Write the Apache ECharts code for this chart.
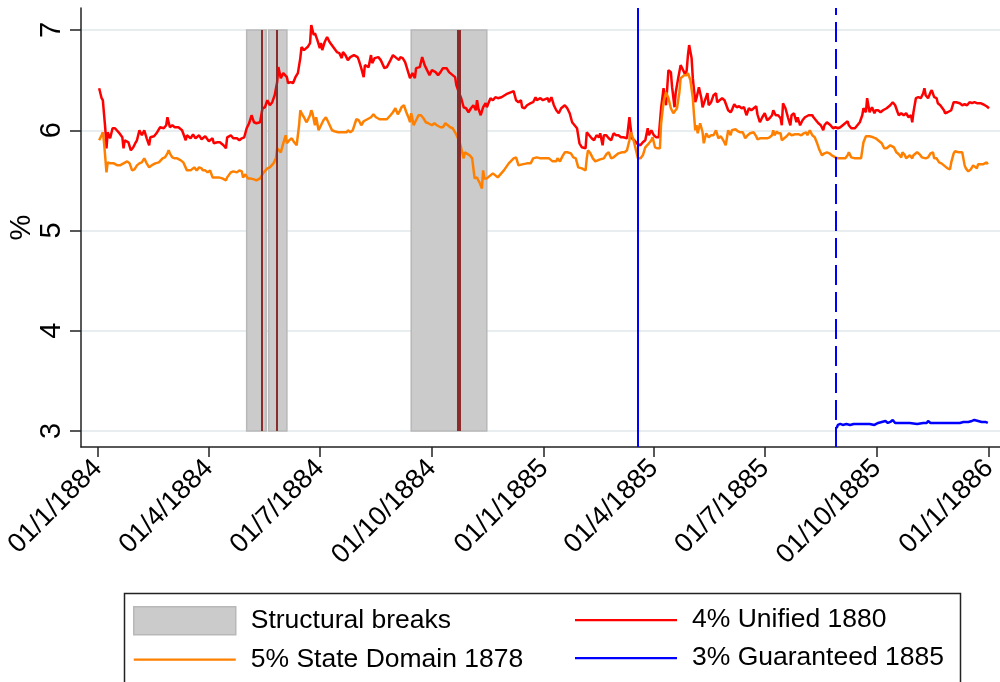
<!DOCTYPE html>
<html>
<head>
<meta charset="utf-8">
<script src="https://cdn.jsdelivr.net/npm/echarts@6/dist/echarts.min.js"></script>
<style>
html,body{margin:0;padding:0;background:#fff;}
#chart{width:1000px;height:682px;}
</style>
</head>
<body>
<div id="chart"></div>
<script>
// x values are days since 01/1/1884
const tickDays = [0, 91, 182, 274, 366, 456, 547, 639, 731];
const tickLabels = ['01/1/1884','01/4/1884','01/7/1884','01/10/1884','01/1/1885','01/4/1885','01/7/1885','01/10/1885','01/1/1886'];
const yTicks = [3, 4, 5, 6, 7];

// structural break bands [startDay, endDay] and break dates [day, lineWidth]
const breakBands = [[122, 138], [140, 155], [257, 319]];
const breakDates = [[134.5, 2], [147, 2], [296, 4]];
// issue of the 3% Guaranteed 1885 (solid) and first quotation (dashed)
const guaranteedIssue = 443;
const guaranteedStart = 605;

// 4% Unified 1880 [day, yield %]
const unified1880 = [[1,6.42],[3,6.32],[4,6.30],[6,6.02],[7,5.82],[8,5.98],[10,5.92],[12,6.02],[14,6.02],[17,5.98],[20,5.93],[21,5.82],[22,5.90],[25,5.88],[27,5.80],[29,5.83],[31,5.88],[32,5.90],[34,6.00],[36,5.95],[38,6.00],[40,5.92],[42,5.85],[43,5.93],[46,5.94],[48,5.97],[51,6.03],[54,6.02],[56,6.05],[57,6.13],[59,6.03],[61,6.05],[63,6.03],[66,6.03],[69,6.00],[72,5.90],[73,5.95],[76,5.92],[78,5.96],[80,5.92],[83,5.95],[85,5.91],[88,5.94],[91,5.89],[94,5.92],[95,5.87],[98,5.88],[100,5.88],[103,5.85],[105,5.82],[106,5.93],[109,5.95],[111,5.92],[114,5.92],[116,5.90],[118,5.92],[120,5.93],[122,6.02],[124,6.07],[126,6.15],[128,6.08],[130,6.07],[133,6.08],[135,6.22],[137,6.23],[139,6.30],[141,6.25],[143,6.28],[145,6.35],[147,6.48],[148,6.63],[150,6.52],[152,6.57],[155,6.53],[156,6.47],[158,6.48],[160,6.47],[162,6.53],[164,6.57],[166,6.72],[167,6.83],[169,6.80],[172,6.83],[174,6.87],[175,7.05],[177,6.95],[178,6.97],[180,6.90],[182,6.82],[183,6.87],[184,6.80],[186,6.88],[188,6.93],[190,6.88],[193,6.83],[196,6.78],[198,6.77],[200,6.72],[201,6.78],[203,6.75],[205,6.70],[207,6.73],[210,6.75],[213,6.73],[214,6.70],[216,6.62],[218,6.53],[219,6.65],[222,6.63],[224,6.75],[225,6.67],[227,6.72],[230,6.73],[232,6.70],[235,6.62],[237,6.63],[240,6.70],[242,6.75],[244,6.73],[247,6.70],[248,6.73],[250,6.72],[252,6.68],[254,6.60],[256,6.52],[258,6.57],[260,6.52],[261,6.62],[264,6.63],[266,6.73],[268,6.65],[270,6.60],[272,6.55],[274,6.60],[277,6.58],[279,6.55],[281,6.58],[283,6.62],[286,6.62],[288,6.58],[291,6.55],[293,6.53],[294,6.45],[296,6.38],[298,6.32],[300,6.23],[302,6.22],[304,6.18],[306,6.22],[308,6.25],[310,6.20],[311,6.30],[312,6.22],[314,6.15],[316,6.23],[318,6.27],[319,6.23],[322,6.32],[324,6.30],[326,6.33],[328,6.32],[331,6.33],[335,6.36],[341,6.39],[343,6.30],[345,6.28],[347,6.30],[348,6.23],[350,6.22],[352,6.25],[355,6.27],[357,6.28],[359,6.33],[360,6.30],[363,6.32],[365,6.30],[367,6.31],[369,6.32],[370,6.28],[372,6.33],[374,6.25],[376,6.20],[378,6.17],[380,6.22],[383,6.25],[385,6.22],[387,6.17],[389,6.08],[391,6.05],[393,6.02],[395,5.87],[397,5.83],[400,5.82],[401,5.98],[403,5.95],[405,5.92],[407,5.90],[409,5.95],[411,5.93],[412,5.97],[414,5.85],[415,5.95],[417,5.95],[419,5.92],[421,5.90],[423,5.97],[425,5.95],[427,5.95],[429,5.93],[431,5.93],[434,5.92],[436,6.13],[438,5.92],[440,5.90],[442,5.87],[445,5.85],[447,5.88],[449,5.90],[451,6.02],[452,5.95],[454,6.00],[456,5.95],[458,5.93],[460,5.93],[462,6.22],[464,6.42],[466,6.25],[468,6.60],[470,6.58],[471,6.43],[473,6.23],[474,6.38],[476,6.52],[478,6.65],[480,6.60],[482,6.55],[483,6.60],[484,6.75],[485,6.85],[487,6.72],[488,6.52],[490,6.28],[491,6.32],[493,6.43],[495,6.32],[496,6.23],[498,6.30],[500,6.37],[501,6.25],[503,6.28],[505,6.35],[507,6.37],[508,6.28],[510,6.30],[512,6.32],[514,6.30],[517,6.20],[519,6.18],[520,6.20],[522,6.26],[524,6.23],[526,6.24],[528,6.22],[530,6.23],[532,6.15],[534,6.22],[536,6.20],[538,6.22],[540,6.24],[541,6.16],[543,6.08],[545,6.13],[547,6.17],[549,6.10],[551,6.12],[553,6.15],[554,6.20],[556,6.15],[558,6.15],[560,6.12],[561,6.05],[562,6.27],[564,6.22],[566,6.13],[568,6.05],[569,6.15],[571,6.17],[573,6.08],[574,6.13],[576,6.05],[578,6.10],[580,6.13],[583,6.15],[586,6.15],[587,6.13],[589,6.10],[591,6.07],[593,6.05],[595,6.00],[596,6.05],[598,6.08],[601,6.05],[603,6.02],[605,6.03],[607,6.02],[609,6.03],[611,6.05],[613,6.07],[615,6.09],[616,6.05],[618,6.02],[621,6.02],[623,6.05],[625,6.08],[627,6.15],[628,6.22],[630,6.18],[631,6.32],[633,6.18],[635,6.23],[637,6.17],[638,6.20],[640,6.20],[642,6.18],[644,6.20],[647,6.22],[648,6.23],[650,6.25],[652,6.28],[654,6.25],[656,6.18],[657,6.15],[659,6.17],[661,6.15],[663,6.17],[665,6.13],[667,6.15],[668,6.08],[669,6.18],[671,6.32],[673,6.33],[675,6.32],[677,6.37],[678,6.42],[679,6.35],[681,6.32],[683,6.38],[684,6.40],[686,6.33],[688,6.32],[689,6.27],[691,6.25],[694,6.20],[695,6.17],[697,6.18],[698,6.17],[700,6.20],[702,6.28],[704,6.28],[707,6.27],[709,6.25],[711,6.26],[713,6.25],[715,6.28],[717,6.27],[719,6.28],[721,6.27],[724,6.27],[726,6.26],[729,6.24],[731,6.22]];

// 5% State Domain 1878 [day, yield %]
const stateDomain1878 = [[1,5.90],[3,5.95],[4,5.98],[5,5.88],[7,5.58],[8,5.68],[10,5.67],[13,5.67],[16,5.65],[18,5.65],[21,5.67],[24,5.69],[26,5.67],[28,5.60],[30,5.61],[32,5.65],[34,5.67],[36,5.68],[38,5.72],[40,5.67],[42,5.63],[44,5.65],[47,5.67],[50,5.68],[53,5.72],[55,5.73],[57,5.77],[58,5.80],[59,5.77],[61,5.73],[63,5.72],[65,5.72],[68,5.70],[70,5.68],[73,5.60],[74,5.60],[76,5.60],[79,5.63],[81,5.60],[83,5.63],[85,5.62],[86,5.60],[88,5.60],[90,5.58],[92,5.60],[94,5.53],[96,5.53],[99,5.53],[102,5.52],[105,5.50],[106,5.53],[109,5.58],[111,5.59],[114,5.58],[116,5.60],[118,5.59],[119,5.53],[121,5.56],[123,5.52],[125,5.52],[128,5.51],[130,5.50],[133,5.52],[136,5.58],[139,5.62],[141,5.63],[144,5.67],[146,5.72],[147,5.82],[150,5.78],[152,5.87],[154,5.95],[155,5.87],[157,5.90],[159,5.92],[161,5.88],[163,5.85],[165,6.05],[166,6.20],[167,6.17],[169,6.13],[171,6.08],[172,6.10],[174,6.15],[175,6.20],[176,6.17],[178,6.05],[179,6.13],[181,6.00],[183,6.05],[185,6.10],[187,6.13],[189,6.08],[192,6.00],[194,5.99],[197,5.98],[201,5.98],[204,5.98],[205,6.00],[207,5.98],[209,6.00],[212,6.11],[214,6.10],[216,6.05],[218,6.09],[221,6.11],[224,6.13],[226,6.16],[228,6.13],[231,6.11],[234,6.11],[237,6.11],[240,6.15],[242,6.18],[244,6.22],[246,6.16],[248,6.20],[249,6.23],[251,6.25],[253,6.18],[255,6.12],[256,6.08],[257,6.17],[259,6.05],[261,6.10],[263,6.15],[265,6.15],[267,6.12],[269,6.08],[271,6.07],[274,6.05],[276,6.07],[278,6.05],[281,6.03],[283,6.03],[285,6.07],[287,6.05],[289,6.03],[291,6.02],[293,5.98],[295,5.93],[297,5.87],[298,5.82],[300,5.72],[301,5.78],[302,5.78],[305,5.75],[307,5.72],[308,5.62],[309,5.52],[311,5.53],[312,5.50],[313,5.48],[315,5.42],[316,5.60],[317,5.52],[319,5.52],[322,5.55],[324,5.57],[328,5.53],[333,5.60],[337,5.67],[341,5.72],[343,5.73],[345,5.65],[348,5.66],[352,5.67],[355,5.67],[357,5.72],[360,5.73],[363,5.72],[367,5.72],[370,5.72],[373,5.69],[376,5.69],[377,5.72],[379,5.69],[381,5.74],[383,5.78],[385,5.78],[388,5.77],[390,5.73],[392,5.72],[394,5.63],[397,5.62],[400,5.60],[401,5.72],[402,5.80],[404,5.77],[406,5.72],[408,5.69],[410,5.70],[412,5.71],[415,5.72],[417,5.76],[419,5.78],[421,5.72],[423,5.73],[425,5.75],[427,5.77],[430,5.78],[432,5.78],[434,5.80],[436,5.90],[437,5.98],[439,5.92],[441,5.82],[443,5.72],[445,5.72],[447,5.75],[449,5.83],[452,5.87],[454,5.90],[455,5.93],[457,5.83],[459,5.82],[461,5.82],[462,6.07],[464,6.28],[466,6.38],[468,6.32],[470,6.22],[472,6.17],[473,6.17],[475,6.22],[477,6.38],[478,6.52],[481,6.55],[483,6.55],[484,6.57],[486,6.50],[488,6.32],[489,6.15],[490,6.00],[491,6.05],[492,5.97],[494,6.07],[496,5.98],[497,5.87],[499,5.97],[501,5.93],[503,5.95],[505,5.95],[507,6.00],[509,5.92],[511,5.94],[513,5.90],[515,5.85],[517,6.00],[519,5.95],[520,6.00],[523,6.01],[525,5.99],[527,5.98],[529,5.98],[531,5.92],[533,5.95],[535,5.97],[538,5.98],[540,5.94],[541,5.91],[543,5.92],[546,5.92],[549,5.92],[551,5.93],[553,5.95],[554,6.00],[555,5.95],[557,5.99],[558,5.97],[560,5.97],[561,5.90],[563,5.92],[565,5.94],[567,5.97],[569,5.95],[572,5.96],[575,5.96],[577,5.95],[579,5.97],[581,5.98],[582,5.95],[584,6.00],[586,5.95],[588,5.93],[590,5.87],[592,5.80],[594,5.75],[596,5.77],[598,5.78],[600,5.77],[602,5.75],[605,5.73],[607,5.72],[610,5.72],[613,5.72],[615,5.75],[616,5.78],[618,5.73],[621,5.72],[624,5.72],[626,5.72],[628,5.88],[630,5.94],[633,5.94],[636,5.93],[638,5.92],[641,5.89],[643,5.87],[645,5.82],[647,5.82],[648,5.83],[650,5.85],[653,5.83],[655,5.78],[657,5.76],[659,5.73],[660,5.78],[662,5.75],[663,5.72],[666,5.75],[668,5.72],[669,5.75],[672,5.78],[674,5.76],[676,5.73],[679,5.72],[681,5.73],[683,5.77],[685,5.78],[686,5.72],[688,5.72],[690,5.68],[692,5.67],[695,5.64],[697,5.62],[699,5.61],[700,5.68],[702,5.77],[703,5.79],[706,5.78],[707,5.78],[709,5.78],[711,5.65],[712,5.62],[714,5.59],[716,5.61],[718,5.65],[719,5.66],[721,5.62],[722,5.66],[724,5.66],[726,5.66],[729,5.68],[730,5.66]];

// 3% Guaranteed 1885 [day, yield %]
const guaranteed1885 = [[606,3.03],[607,3.06],[609,3.07],[611,3.06],[614,3.07],[617,3.06],[620,3.07],[622,3.07],[625,3.07],[629,3.07],[633,3.07],[637,3.06],[640,3.08],[643,3.09],[646,3.10],[648,3.08],[650,3.09],[652,3.11],[654,3.08],[657,3.08],[661,3.08],[666,3.08],[672,3.07],[677,3.08],[680,3.08],[681,3.10],[683,3.08],[687,3.08],[691,3.08],[696,3.08],[702,3.08],[707,3.08],[710,3.09],[714,3.09],[717,3.10],[719,3.11],[722,3.10],[725,3.09],[728,3.09],[730,3.08]];

const FONT = 'Liberation Sans, Arial, Helvetica, sans-serif';
const AXIS_COLOR = '#222';
const BAND_FILL = '#cbcbcb';
const BAND_BORDER = '#b8b8b8';
// legend line icon: a 2px horizontal bar inside a 102x28 box (tiny corner points fix the box)
const LINE_ICON = 'path://M0,0L0.01,0L0.01,0.01Z M0,13L102,13L102,15.2L0,15.2Z M101.99,27.99L102,28L101.99,28Z';

const chart = echarts.init(document.getElementById('chart'), null, {renderer: 'canvas'});

const legendText = {fontSize: 26.5, fontFamily: FONT, color: '#000', padding: [0, 0, 0, 10], lineHeight: 28};

const option = {
  animation: false,
  backgroundColor: '#ffffff',
  grid: {left: 81, right: 0, top: 8, bottom: 235, containLabel: false, outerBoundsMode: 'none'},
  xAxis: {
    type: 'value',
    min: -13.9,
    max: 740,
    axisLine: {show: true, onZero: false, lineStyle: {color: AXIS_COLOR, width: 1.5}},
    axisTick: {show: true, customValues: tickDays, length: 10, lineStyle: {color: AXIS_COLOR, width: 1.5}},
    axisLabel: {
      customValues: tickDays,
      rotate: 45,
      margin: 17,
      fontSize: 27,
      fontFamily: FONT,
      color: '#000',
      hideOverlap: false,
      formatter: function (v) { const i = tickDays.indexOf(v); return i >= 0 ? tickLabels[i] : ''; }
    },
    splitLine: {show: false}
  },
  yAxis: {
    type: 'value',
    min: 2.84,
    max: 7.22,
    name: '%',
    nameLocation: 'middle',
    nameRotate: 90,
    nameGap: 45,
    nameMoveOverlap: false,
    nameTextStyle: {fontSize: 29, fontFamily: FONT, color: '#000'},
    axisLine: {show: true, onZero: false, lineStyle: {color: AXIS_COLOR, width: 1.5}},
    axisTick: {show: true, customValues: yTicks, length: 11, lineStyle: {color: AXIS_COLOR, width: 1.5}},
    axisLabel: {customValues: yTicks, rotate: 90, margin: 15, fontSize: 29, fontFamily: FONT, color: '#000'},
    splitLine: {show: true, lineStyle: {color: '#e8eef0', width: 2}}
  },
  legend: [
    {
      orient: 'vertical', left: 133, top: 606, padding: 0, itemWidth: 102, itemHeight: 28, itemGap: 10,
      selectedMode: false, textStyle: legendText,
      data: [
        {name: 'Structural breaks', icon: 'rect', itemStyle: {color: BAND_FILL, borderColor: BAND_BORDER, borderWidth: 1.5}},
        {name: '5% State Domain 1878', icon: LINE_ICON, itemStyle: {color: '#ff8000', borderWidth: 0}}
      ]
    },
    {
      orient: 'vertical', left: 575, top: 606, padding: 0, itemWidth: 102, itemHeight: 28, itemGap: 10,
      selectedMode: false, textStyle: legendText,
      data: [
        {name: '4% Unified 1880', icon: LINE_ICON, itemStyle: {color: '#ff0000', borderWidth: 0}},
        {name: '3% Guaranteed 1885', icon: LINE_ICON, itemStyle: {color: '#0000ff', borderWidth: 0}}
      ]
    }
  ],
  graphic: [
    {type: 'rect', left: 122, top: 591, shape: {width: 836, height: 100},
     style: {fill: 'none', stroke: '#222', lineWidth: 1.5}, silent: true}
  ],
  series: [
    {
      name: 'Structural breaks', type: 'line', data: [], symbol: 'none',
      itemStyle: {color: BAND_FILL},
      lineStyle: {color: BAND_FILL},
      markArea: {
        silent: true,
        itemStyle: {color: BAND_FILL, borderColor: BAND_BORDER, borderWidth: 1.5},
        data: breakBands.map(b => [{xAxis: b[0], yAxis: 3}, {xAxis: b[1], yAxis: 7}])
      },
      markLine: {
        silent: true, symbol: 'none', label: {show: false},
        data: breakDates.map(b => [
          {coord: [b[0], 3], lineStyle: {color: '#8b2c2c', width: b[1], type: 'solid'}},
          {coord: [b[0], 7]}
        ])
      }
    },
    {
      name: '4% Unified 1880', type: 'line', data: unified1880, symbol: 'none', showSymbol: false,
      itemStyle: {color: '#ff0000'}, lineStyle: {color: '#ff0000', width: 2.5}
    },
    {
      name: '5% State Domain 1878', type: 'line', data: stateDomain1878, symbol: 'none', showSymbol: false,
      itemStyle: {color: '#ff8000'}, lineStyle: {color: '#ff8000', width: 2.5}
    },
    {
      name: '3% Guaranteed 1885', type: 'line', data: guaranteed1885, symbol: 'none', showSymbol: false,
      itemStyle: {color: '#0000ff'}, lineStyle: {color: '#0000ff', width: 2.5},
      markLine: {
        silent: true, symbol: 'none', label: {show: false},
        data: [
          {xAxis: guaranteedIssue, lineStyle: {color: '#0000ff', width: 2, type: 'solid'}},
          {xAxis: guaranteedStart, lineStyle: {color: '#0000ff', width: 2, type: [20, 7]}}
        ]
      }
    }
  ]
};

chart.setOption(option);
</script>
</body>
</html>
